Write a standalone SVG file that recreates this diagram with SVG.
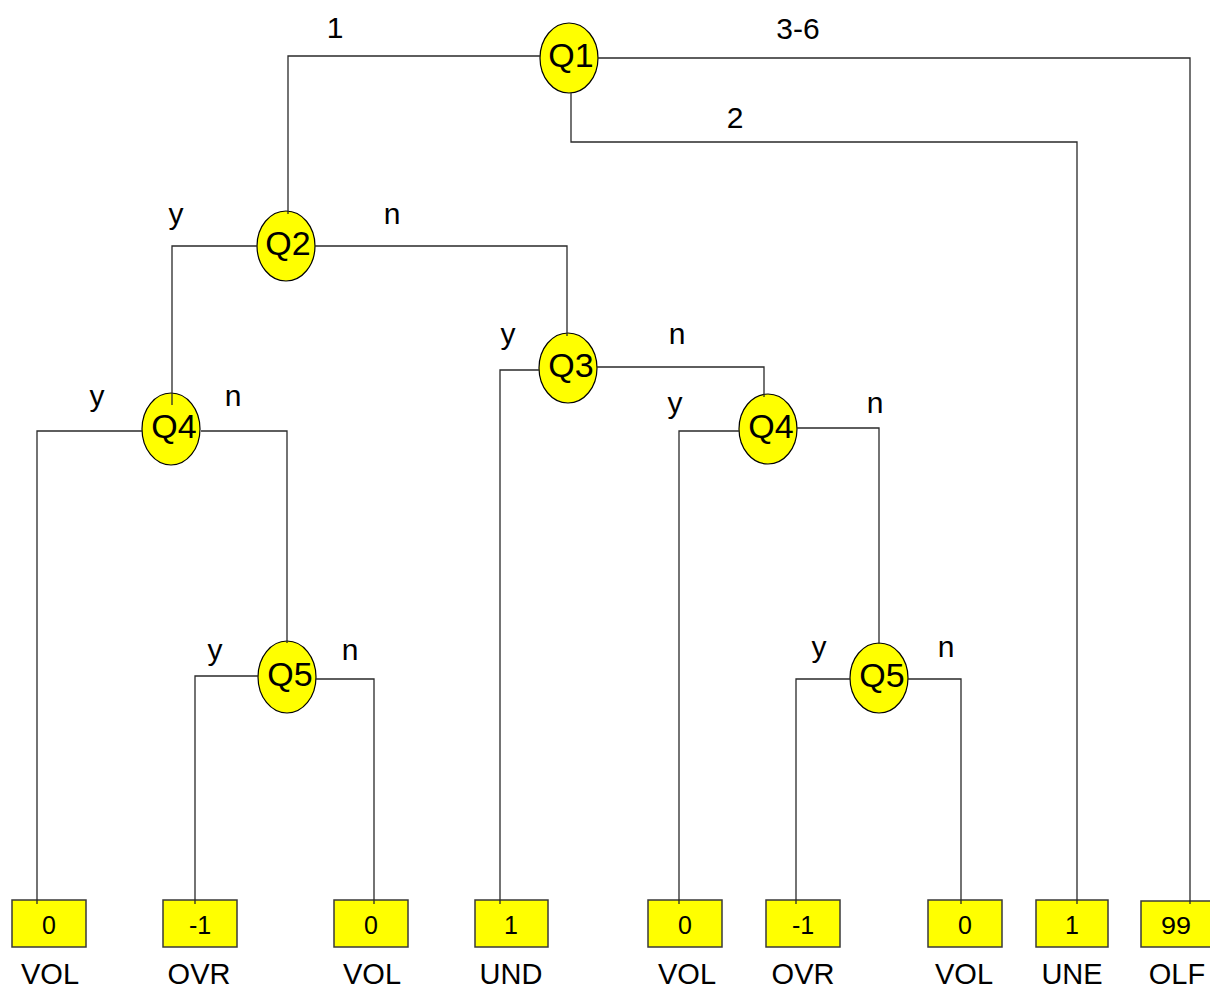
<svg xmlns="http://www.w3.org/2000/svg" width="1210" height="988" viewBox="0 0 1210 988">
  <style>
    .bg { fill: #ffffff; }
    .q { fill: #ffff00; stroke: #000000; stroke-width: 1.2; }
    .leaf { fill: #ffff00; stroke: #3a3a3a; stroke-width: 1.5; }
    .wire { fill: none; stroke: #2a2a2a; stroke-width: 1.3; }
    text { font-family: "Liberation Sans", Arial, sans-serif; fill: #000000; text-anchor: middle; }
    .qt { font-size: 34px; }
    .edge { font-size: 30px; }
    .val { font-size: 25px; }
    .val99 { font-size: 24px; }
    .cls { font-size: 29px; }
  </style>
  <rect class="bg" x="0" y="0" width="1210" height="988"/>

  <!-- decision nodes -->
  <g id="q1"><ellipse class="q" cx="569" cy="58" rx="29" ry="35"/><text class="qt" x="571" y="67">Q1</text></g>
  <g id="q2"><ellipse class="q" cx="286" cy="246" rx="29" ry="35"/><text class="qt" x="288" y="255">Q2</text></g>
  <g id="q3"><ellipse class="q" cx="568" cy="368" rx="29" ry="35"/><text class="qt" x="571" y="377">Q3</text></g>
  <g id="q4-left"><ellipse class="q" cx="171" cy="429" rx="29" ry="36"/><text class="qt" x="174" y="438">Q4</text></g>
  <g id="q4-right"><ellipse class="q" cx="768" cy="429" rx="29" ry="35"/><text class="qt" x="771" y="438">Q4</text></g>
  <g id="q5-left"><ellipse class="q" cx="287" cy="677" rx="29" ry="36"/><text class="qt" x="290" y="686">Q5</text></g>
  <g id="q5-right"><ellipse class="q" cx="879" cy="678" rx="29" ry="35"/><text class="qt" x="882" y="687">Q5</text></g>

  <!-- leaf outcomes -->
  <g id="leaf-1"><rect class="leaf" x="12" y="900" width="74" height="47"/><text class="val" x="49" y="934">0</text><text class="cls" x="50" y="984">VOL</text></g>
  <g id="leaf-2"><rect class="leaf" x="163" y="900" width="74" height="47"/><text class="val" x="200" y="934">-1</text><text class="cls" x="199" y="984">OVR</text></g>
  <g id="leaf-3"><rect class="leaf" x="334" y="900" width="74" height="47"/><text class="val" x="371" y="934">0</text><text class="cls" x="372" y="984">VOL</text></g>
  <g id="leaf-4"><rect class="leaf" x="475" y="900" width="73" height="47"/><text class="val" x="511" y="934">1</text><text class="cls" x="511" y="984">UND</text></g>
  <g id="leaf-5"><rect class="leaf" x="648" y="900" width="74" height="47"/><text class="val" x="685" y="934">0</text><text class="cls" x="687" y="984">VOL</text></g>
  <g id="leaf-6"><rect class="leaf" x="766" y="900" width="74" height="47"/><text class="val" x="803" y="934">-1</text><text class="cls" x="803" y="984">OVR</text></g>
  <g id="leaf-7"><rect class="leaf" x="928" y="900" width="74" height="47"/><text class="val" x="965" y="934">0</text><text class="cls" x="964" y="984">VOL</text></g>
  <g id="leaf-8"><rect class="leaf" x="1036" y="900" width="72" height="47"/><text class="val" x="1072" y="934">1</text><text class="cls" x="1072" y="984">UNE</text></g>
  <g id="leaf-9"><rect class="leaf" x="1141" y="901" width="74" height="46"/><text class="val99" x="1176" y="934" textLength="30" lengthAdjust="spacingAndGlyphs">99</text><text class="cls" x="1177" y="984">OLF</text></g>

  <!-- connectors -->
  <g id="connectors">
    <polyline class="wire" points="540,56 288,56 288,214"/>
    <polyline class="wire" points="598,58 1190,58 1190,904"/>
    <polyline class="wire" points="571,93 571,142 1077,142 1077,904"/>
    <polyline class="wire" points="257,246 172,246 172,405"/>
    <polyline class="wire" points="315,246 567,246 567,336"/>
    <polyline class="wire" points="539,370 500,370 500,904"/>
    <polyline class="wire" points="597,367 764,367 764,397"/>
    <polyline class="wire" points="142,431 37,431 37,904"/>
    <polyline class="wire" points="201,431 287,431 287,643"/>
    <polyline class="wire" points="739,431 679,431 679,904"/>
    <polyline class="wire" points="797,428 879,428 879,644"/>
    <polyline class="wire" points="258,676 195,676 195,904"/>
    <polyline class="wire" points="316,679 374,679 374,904"/>
    <polyline class="wire" points="850,679 796,679 796,904"/>
    <polyline class="wire" points="908,679 961,679 961,904"/>
  </g>

  <!-- branch labels -->
  <g id="branch-labels">
    <text class="edge" x="335" y="38">1</text>
    <text class="edge" x="798" y="39">3-6</text>
    <text class="edge" x="735" y="128">2</text>
    <text class="edge" x="176" y="224">y</text>
    <text class="edge" x="392" y="224">n</text>
    <text class="edge" x="508" y="344">y</text>
    <text class="edge" x="677" y="344">n</text>
    <text class="edge" x="97" y="406">y</text>
    <text class="edge" x="233" y="406">n</text>
    <text class="edge" x="675" y="413">y</text>
    <text class="edge" x="875" y="413">n</text>
    <text class="edge" x="215" y="660">y</text>
    <text class="edge" x="350" y="660">n</text>
    <text class="edge" x="819" y="657">y</text>
    <text class="edge" x="946" y="657">n</text>
  </g>
</svg>
